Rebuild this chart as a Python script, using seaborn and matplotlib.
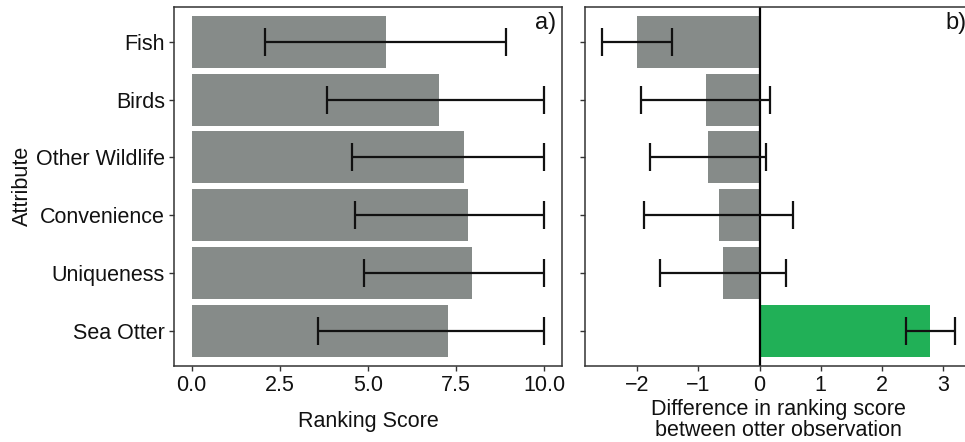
import matplotlib
matplotlib.use("Agg")
import matplotlib.pyplot as plt
import seaborn as sns
import pandas as pd
import numpy as np

# ---- data ----
categories = ["Fish", "Birds", "Other Wildlife", "Convenience", "Uniqueness", "Sea Otter"]

rank_mean = [5.50, 7.02, 7.71, 7.85, 7.94, 7.27]
rank_low = [2.08, 3.85, 4.55, 4.63, 4.90, 3.59]
rank_high = [8.92, 10.0, 10.0, 10.0, 10.0, 10.0]

diff_mean = [-2.00, -0.88, -0.84, -0.67, -0.60, 2.79]
diff_low = [-2.57, -1.94, -1.79, -1.89, -1.63, 2.40]
diff_high = [-1.44, 0.17, 0.11, 0.55, 0.44, 3.19]

left_ticks = [0.0, 2.5, 5.0, 7.5, 10.0]
left_ticklabels = ["0.0", "2.5", "5.0", "7.5", "10.0"]
right_ticks = [-2, -1, 0, 1, 2, 3]
right_ticklabels = ["\u22122", "\u22121", "0", "1", "2", "3"]

GREY = "#868b89"
GREEN = "#21b057"

sns.set_theme(style="white")
plt.rcParams["font.family"] = ["Liberation Sans", "DejaVu Sans"]

df_a = pd.DataFrame({"Attribute": categories, "score": rank_mean})
df_b = pd.DataFrame({"Attribute": categories, "diff": diff_mean})
df_b["sign"] = ["pos" if v > 0 else "neg" for v in diff_mean]

fig = plt.figure(figsize=(9.65, 4.42), dpi=100)
ax1 = fig.add_axes([0.1803, 0.1726, 0.402, 0.8116])
ax2 = fig.add_axes([0.6059, 0.1726, 0.4017, 0.8116])

FS = 15.5
SPINE = "#333333"

# ---- panel a ----
sns.barplot(data=df_a, x="score", y="Attribute", order=categories, color=GREY,
            width=0.9, saturation=1, errorbar=None, ax=ax1, linewidth=0)
ypos = np.arange(len(categories))
m = np.array(rank_mean)
ax1.errorbar(m, ypos, xerr=[m - np.array(rank_low), np.array(rank_high) - m],
             fmt="none", ecolor="#111111", elinewidth=1.6, capsize=10, capthick=1.6)
ax1.set_xlim(-0.5, 10.5)
ax1.set_ylim(len(categories) - 0.4, -0.6)
ax1.set_xticks(left_ticks)
ax1.set_xticklabels(left_ticklabels)
ax1.set_xlabel("Ranking Score", fontsize=FS, labelpad=11, color="#111111")
ax1.set_ylabel("Attribute", fontsize=FS, labelpad=2, color="#111111")
ax1.text(0.985, 0.985, "a)", transform=ax1.transAxes, ha="right", va="top",
         fontsize=FS + 1.5, color="#111111")

# ---- panel b ----
sns.barplot(data=df_b, x="diff", y="Attribute", order=categories, hue="sign",
            palette={"neg": GREY, "pos": GREEN}, legend=False,
            width=0.9, saturation=1, errorbar=None, ax=ax2, linewidth=0)
ax2.axvline(0, color="black", linewidth=1.6)
d = np.array(diff_mean)
ax2.errorbar(d, ypos, xerr=[d - np.array(diff_low), np.array(diff_high) - d],
             fmt="none", ecolor="#111111", elinewidth=1.6, capsize=10, capthick=1.6)
ax2.set_xlim(-2.86, 3.48)
ax2.set_ylim(len(categories) - 0.4, -0.6)
ax2.set_xticks(right_ticks)
ax2.set_xticklabels(right_ticklabels)
ax2.set_yticklabels([])
ax2.set_ylabel("")
ax2.set_xlabel("Difference in ranking score\nbetween otter observation",
               fontsize=FS, labelpad=2, color="#111111", linespacing=1.0)
ax2.text(0.985, 0.985, "b)", transform=ax2.transAxes, ha="right", va="top",
         fontsize=FS + 1.5, color="#111111")

for ax in (ax1, ax2):
    for s in ax.spines.values():
        s.set_visible(True)
        s.set_color(SPINE)
        s.set_linewidth(1.1)
    ax.tick_params(axis="both", which="both", length=3.5, width=1.0, color=SPINE,
                   labelsize=FS, labelcolor="#111111", pad=3,
                   bottom=True, left=True)
    ax.grid(False)

fig.savefig("out.png", dpi=100)
